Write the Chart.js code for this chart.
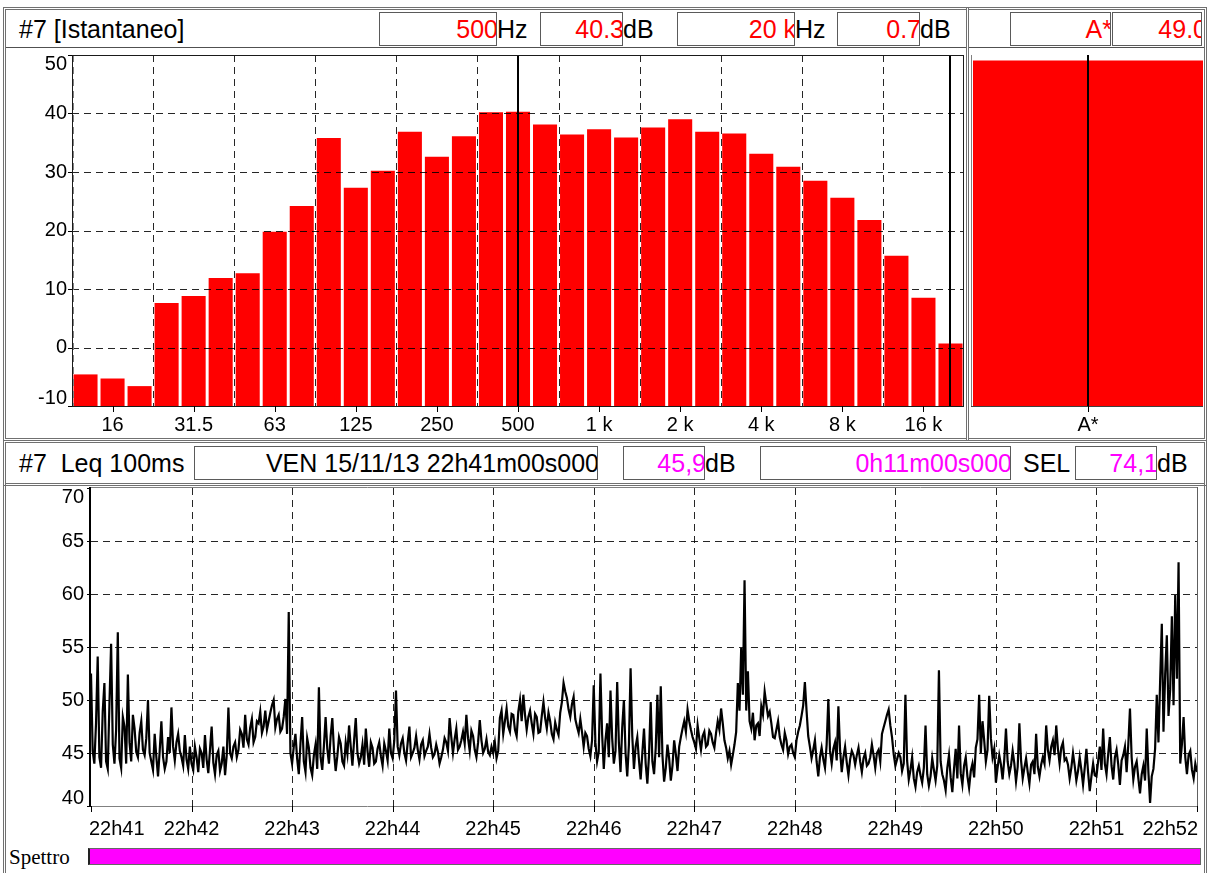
<!DOCTYPE html>
<html lang="it">
<head>
<meta charset="utf-8">
<title>#7 Leq 100ms</title>
<script src="https://cdn.jsdelivr.net/npm/chart.js@4.4.1/dist/chart.umd.min.js"></script>
<style>
  html, body { margin:0; padding:0; background:#fff; }
  body { position:relative; width:1208px; height:873px; overflow:hidden;
         font-family:"Liberation Sans", Arial, sans-serif; color:#000; }
  .abs { position:absolute; box-sizing:border-box; }
  .panel { border:3px double #707070; }
  .rule { height:0; border-top:1px solid #505050; }
  .lbl, .box { font-size:25px; line-height:32px; white-space:pre; }
  .box { height:34px; border:1px solid #5a5a5a; background:#fff; overflow:hidden; text-align:right; }
  .box span { position:relative; left:2px; }
  .red { color:#ff0000; }
  .mag { color:#ff00ff; }
  canvas { position:absolute; display:block; }
</style>
</head>
<body>

<!-- frames -->
<div class="abs panel" style="left:3px;top:7px;width:966px;height:434px"></div>
<div class="abs panel" style="left:966px;top:7px;width:241px;height:434px"></div>
<div class="abs panel" style="left:3px;top:440px;width:1204px;height:46px"></div>
<div class="abs panel" style="left:3px;top:484px;width:1204px;height:400px;border-top:none"></div>
<div class="abs rule" style="left:6px;top:47px;width:960px"></div>
<div class="abs rule" style="left:969px;top:47px;width:235px"></div>

<!-- spectrum header -->
<div class="abs lbl" style="left:19px;top:13px">#7 [Istantaneo]</div>
<div class="abs box red" style="left:379px;top:12px;width:118px"><span>500</span></div>
<div class="abs lbl" style="left:497px;top:13px">Hz</div>
<div class="abs box red" style="left:540px;top:12px;width:83px"><span>40.3</span></div>
<div class="abs lbl" style="left:623px;top:13px">dB</div>
<div class="abs box red" style="left:677px;top:12px;width:118px"><span>20 k</span></div>
<div class="abs lbl" style="left:795px;top:13px">Hz</div>
<div class="abs box red" style="left:837px;top:12px;width:83px"><span>0.7</span></div>
<div class="abs lbl" style="left:920px;top:13px">dB</div>
<div class="abs box red" style="left:1010px;top:12px;width:101px"><span>A*</span></div>
<div class="abs box red" style="left:1112px;top:12px;width:90px"><span style="left:6px">49.0</span></div>

<!-- history header -->
<div class="abs lbl" style="left:19px;top:447px">#7  Leq 100ms</div>
<div class="abs box" style="left:194px;top:446px;width:404px"><span>VEN 15/11/13 22h41m00s000</span></div>
<div class="abs box mag" style="left:623px;top:446px;width:82px"><span>45,9</span></div>
<div class="abs lbl" style="left:705px;top:447px">dB</div>
<div class="abs box mag" style="left:760px;top:446px;width:251px"><span>0h11m00s000</span></div>
<div class="abs lbl" style="left:1023px;top:447px">SEL</div>
<div class="abs box mag" style="left:1075px;top:446px;width:82px"><span>74,1</span></div>
<div class="abs lbl" style="left:1157px;top:447px">dB</div>

<canvas id="spectrum" width="961" height="391" style="left:5px;top:47px"></canvas>
<canvas id="overall" width="239" height="391" style="left:968px;top:47px"></canvas>
<canvas id="history" width="1199" height="355" style="left:5px;top:485px"></canvas>

<!-- spectrum selection bar -->
<div class="abs" style="left:9px;top:845px;font-family:'Liberation Serif',serif;font-size:21px;line-height:24px">Spettro</div>
<div class="abs" style="left:88px;top:848px;width:1113px;height:17px;background:#ff00ff;border:1px solid #666;border-left:2px solid #222"></div>

<script>
// 1/3-octave band levels (dB)
const bands = ['12.5','16','20','25','31.5','40','50','63','80','100','125','160','200','250','315','400',
               '500','630','800','1 k','1.25 k','1.6 k','2 k','2.5 k','3.15 k','4 k','5 k','6.3 k','8 k',
               '10 k','12.5 k','16 k','20 k'];
const bandLevels = [-4.6, -5.3, -6.6, 7.6, 8.8, 11.9, 12.7, 19.8, 24.2, 35.8, 27.3, 30.2, 36.9, 32.6, 36.1, 40.2,
                    40.3, 38.1, 36.4, 37.3, 35.9, 37.6, 39.0, 36.9, 36.6, 33.1, 30.9, 28.5, 25.6,
                    21.8, 15.7, 8.5, 0.7];
const bandTicks = ['16','31.5','63','125','250','500','1 k','2 k','4 k','8 k','16 k'];
const cursorBands = ['500', '20 k'];
const levelTicks = [-10, 0, 10, 20, 30, 40, 50];

// overall weighted level
const overallLabels = ['A*'];
const overallLevels = [49.0];

// Leq 100ms history, one reading per second starting at 22h41m00s
const stepSeconds = 1;
const leq41 = [52.5,45.2,44.0,47.8,54.1,44.6,43.6,48.9,51.6,44.2,43.5,49.6,55.3,45.8,44.0,47.2,56.4,44.5,43.6,48.4,
               47.5,44.0,52.4,46.0,44.2,48.6,47.3,45.1,44.6,46.9,48.0,45.3,44.8,46.4,50.0,45.0,44.2,43.4,46.8,44.6,
               42.8,45.2,48.0,44.6,43.5,44.2,46.5,45.0,49.3,45.6,44.3,46.0,46.8,45.2,44.6,43.8,46.7,44.4,43.5,45.6];
const leq42 = [44.0,43.4,45.6,44.6,43.2,45.4,45.0,43.6,46.7,44.4,43.1,45.3,47.5,44.1,43.0,44.8,45.2,43.3,44.0,45.6,
               42.9,44.8,49.3,45.0,44.5,45.6,46.0,44.6,45.3,47.2,46.8,45.5,48.6,46.3,45.8,47.4,48.2,46.0,46.5,48.0,
               47.8,48.9,46.9,47.5,49.0,47.2,48.0,48.8,49.5,50.0,47.4,48.2,48.6,47.0,47.3,48.4,50.1,46.8,58.3,45.0];
const leq43 = [44.0,45.6,46.8,44.5,43.0,45.9,48.4,44.2,43.2,46.4,45.5,43.6,42.9,44.8,45.8,43.5,51.2,44.6,43.4,45.7,
               48.4,45.4,44.0,46.6,48.3,45.2,43.3,44.7,46.5,45.9,44.2,43.8,46.0,44.9,47.6,45.6,43.8,46.2,48.3,45.0,
               44.0,44.6,45.8,43.9,47.3,45.2,43.7,46.0,45.5,44.0,44.2,45.4,46.0,44.7,43.8,45.9,45.2,44.3,47.3,45.0];
const leq44 = [44.5,46.2,50.9,45.6,44.8,45.9,46.4,45.0,44.3,46.0,47.5,44.6,45.0,45.5,46.6,45.3,44.4,45.8,46.2,44.7,
               45.2,45.6,46.8,45.5,44.6,44.9,45.8,45.1,44.0,44.6,45.3,46.4,46.0,45.2,48.3,46.5,45.0,46.3,47.3,45.3,
               45.6,46.2,47.0,45.9,48.6,46.4,45.2,47.1,46.6,45.3,44.6,46.0,48.1,46.2,45.0,45.4,46.3,45.1,44.8,45.6];
const leq45 = [45.0,46.0,44.5,45.2,48.3,49.0,46.8,48.0,49.2,47.5,47.0,48.7,48.6,47.2,46.6,48.9,50.0,48.0,50.5,48.6,
               47.2,48.4,49.0,47.8,46.8,48.7,48.4,46.9,47.0,48.5,49.8,48.3,47.3,48.8,48.0,46.8,46.3,47.9,47.2,46.7,
               48.8,49.8,51.6,50.8,50.2,49.1,48.4,49.6,50.3,48.2,47.5,46.9,48.2,47.0,45.6,46.9,46.6,45.4,44.7,46.2];
const leq46 = [51.4,46.0,44.2,45.1,52.5,46.8,43.5,46.2,47.8,44.6,50.9,46.4,44.0,45.2,51.7,46.0,43.2,47.4,50.0,45.0,
               42.8,45.8,53.0,46.6,43.5,45.6,46.5,44.3,42.5,45.0,47.3,44.0,42.1,44.8,49.8,44.2,43.0,45.5,50.5,44.6,
               51.3,44.8,42.3,43.6,45.8,44.5,42.4,43.8,46.2,44.9,43.3,45.6,46.5,47.3,48.0,47.0,49.1,48.0,47.2,46.5];
const leq47 = [46.0,45.4,47.6,46.4,45.3,46.6,47.0,45.6,45.8,47.1,46.8,46.0,45.5,46.9,48.0,47.2,49.2,47.8,46.2,45.5,
               44.5,45.2,43.9,44.8,45.8,47.0,51.6,49.0,54.9,50.5,61.3,49.0,52.7,48.0,47.3,48.8,46.2,47.6,47.8,46.6,
               49.4,48.6,50.8,49.6,48.5,48.9,47.8,46.5,46.4,47.2,48.0,46.5,45.8,45.3,46.9,46.2,44.9,45.6,45.8,45.0];
const leq48 = [44.6,46.2,47.0,47.6,48.5,49.5,51.7,49.0,46.6,45.6,44.5,45.3,46.2,44.2,42.8,44.6,45.5,44.4,43.6,45.8,
               50.1,45.2,44.0,45.4,46.0,44.3,49.4,45.3,43.2,44.6,45.6,44.1,42.9,44.4,45.2,44.8,43.9,44.8,45.5,44.2,
               43.2,44.5,45.0,43.8,44.0,44.6,45.8,44.8,43.6,45.0,45.3,44.2,46.8,47.4,48.0,48.6,49.1,47.6,46.5,44.9];
const leq49 = [43.8,44.4,45.0,44.6,43.3,44.0,50.5,44.3,42.5,43.4,44.6,42.6,41.8,43.2,43.8,42.9,42.2,43.6,47.6,43.0,
               41.9,42.8,44.5,43.4,42.4,43.8,52.8,44.2,43.0,42.4,41.5,43.6,44.8,42.7,41.3,43.5,45.4,42.6,47.6,43.1,
               42.0,43.8,44.6,42.8,41.7,43.3,44.0,42.7,45.5,46.3,50.5,45.0,48.0,46.2,44.2,45.3,50.4,46.4,44.6,45.4];
const leq50 = [42.2,43.6,44.8,43.9,42.5,44.4,47.3,44.2,43.0,43.8,45.2,44.0,42.3,43.7,47.8,44.3,42.6,43.6,44.5,43.2,
               42.1,43.9,44.2,43.0,46.8,43.7,42.8,43.9,44.6,44.0,47.6,45.3,44.3,45.6,46.2,44.8,47.6,45.4,44.0,45.5,
               46.0,44.3,44.5,43.9,42.6,43.6,45.0,43.8,42.4,43.3,44.6,43.4,42.0,43.6,45.4,43.2,41.4,42.8,44.0,42.9];
const leq51 = [42.8,44.2,45.6,43.4,47.3,44.0,43.0,44.9,46.5,43.8,42.5,44.6,45.3,43.9,42.0,44.3,44.8,45.6,43.2,45.8,
               49.2,44.6,42.5,43.7,44.2,42.6,41.2,43.0,43.8,42.4,47.3,43.2,40.3,42.8,43.5,45.4,50.5,46.0,51.8,57.2,
               47.0,52.4,56.1,48.5,51.0,57.9,49.5,59.9,52.0,63.0,44.0,45.8,48.4,44.6,43.0,44.8,45.2,43.4,42.6,44.0];
const leqEnd = [43.2];
const timeTicks = ['22h41','22h42','22h43','22h44','22h45','22h46','22h47','22h48','22h49','22h50','22h51','22h52'];
const leqTicks = [40, 45, 50, 55, 60, 65, 70];

const leqSeries = [].concat(leq41, leq42, leq43, leq44, leq45, leq46, leq47, leq48, leq49, leq50, leq51, leqEnd)
  .map((v, i) => ({ x: i * stepSeconds, y: v }));

const TICK_FONT = '20px "Liberation Sans", Arial, sans-serif';
const GRID = 'rgba(0,0,0,0.85)';

function crisp(v) { return Math.round(v) + 0.5; }
function stroke(ctx, x1, y1, x2, y2, color, width, dashed) {
  ctx.save();
  ctx.strokeStyle = color;
  ctx.lineWidth = width || 1;
  ctx.setLineDash(dashed ? [7, 5] : []);
  ctx.beginPath(); ctx.moveTo(x1, y1); ctx.lineTo(x2, y2); ctx.stroke();
  ctx.restore();
}
function drawYLabels(chart, ticks, gap) {
  const { ctx, chartArea: a, scales: { y } } = chart;
  ctx.save();
  ctx.font = TICK_FONT; ctx.fillStyle = '#000';
  ctx.textAlign = 'right'; ctx.textBaseline = 'middle';
  ticks.forEach(v => {
    const py = y.getPixelForValue(v);
    stroke(ctx, a.left - 4, crisp(py), a.left, crisp(py), '#000');
    const ty = Math.min(Math.max(py, a.top + 9), a.bottom - 8);
    ctx.fillText(String(v), a.left - gap, ty);
  });
  ctx.restore();
}

// grid, cursors, frame and labels of the band spectrum
const spectrumDecor = {
  id: 'spectrumDecor',
  afterDatasetsDraw(chart) {
    const { ctx, chartArea: a, scales: { x, y } } = chart;
    const half = (a.right - a.left) / bands.length / 2;
    levelTicks.forEach(v => {
      if (v <= y.min || v >= y.max) return;
      const py = crisp(y.getPixelForValue(v));
      stroke(ctx, a.left, py, a.right, py, GRID, 1, true);
    });
    bands.forEach((b, i) => {
      if (i % 3) return;
      const px = crisp(x.getPixelForValue(i) - half) + (i === 0 ? 1 : 0);
      stroke(ctx, px, a.top, px, a.bottom, i === 0 ? '#808080' : GRID, 1, true);
    });
    cursorBands.forEach(b => {
      const px = Math.round(x.getPixelForValue(bands.indexOf(b)));
      stroke(ctx, px, a.top, px, a.bottom, '#000', 2);
    });
    ctx.save();
    ctx.strokeStyle = '#1a1a1a'; ctx.lineWidth = 1;
    ctx.strokeRect(crisp(a.left), crisp(a.top), Math.round(a.right - a.left) - 1, Math.round(a.bottom - a.top));
    ctx.restore();
  },
  afterDraw(chart) {
    const { ctx, chartArea: a, scales: { x } } = chart;
    drawYLabels(chart, levelTicks, 5);
    ctx.save();
    ctx.font = TICK_FONT; ctx.fillStyle = '#000';
    ctx.textAlign = 'center'; ctx.textBaseline = 'middle';
    bands.forEach((b, i) => {
      if (!bandTicks.includes(b)) return;
      const px = x.getPixelForValue(i);
      stroke(ctx, crisp(px), a.bottom, crisp(px), a.bottom + 6, '#000');
      ctx.fillText(b, px, a.bottom + 19);
    });
    ctx.restore();
  }
};

// cursor, frame and label of the overall level
const overallDecor = {
  id: 'overallDecor',
  afterDatasetsDraw(chart) {
    const { ctx, chartArea: a, scales: { x } } = chart;
    const px = Math.round(x.getPixelForValue(0));
    stroke(ctx, px, a.top, px, a.bottom, '#000', 2);
    stroke(ctx, crisp(a.left) - 2, a.top, crisp(a.left) - 2, a.bottom, '#808080');
    stroke(ctx, a.left - 2, crisp(a.bottom), a.right, crisp(a.bottom), '#404040');
  },
  afterDraw(chart) {
    const { ctx, chartArea: a, scales: { x } } = chart;
    ctx.save();
    ctx.font = TICK_FONT; ctx.fillStyle = '#000';
    ctx.textAlign = 'center'; ctx.textBaseline = 'middle';
    overallLabels.forEach((l, i) => {
      const px = x.getPixelForValue(i);
      stroke(ctx, crisp(px), a.bottom, crisp(px), a.bottom + 6, '#000');
      ctx.fillText(l, px, a.bottom + 19);
    });
    ctx.restore();
  }
};

// grid, frame and labels of the Leq history
const historyDecor = {
  id: 'historyDecor',
  beforeDatasetsDraw(chart) {
    const { chartArea: a, scales: { x, y }, ctx } = chart;
    leqTicks.forEach(v => {
      if (v <= y.min || v >= y.max) return;
      const py = crisp(y.getPixelForValue(v));
      stroke(ctx, a.left, py, a.right, py, GRID, 1, true);
    });
    timeTicks.forEach((t, i) => {
      const px = crisp(x.getPixelForValue(i * 60));
      if (px <= a.left + 2 || px >= a.right - 2) return;
      stroke(ctx, px, a.top, px, a.bottom, GRID, 1, true);
    });
  },
  afterDraw(chart) {
    const { ctx, chartArea: a, scales: { x } } = chart;
    stroke(ctx, a.left, crisp(a.top) - 1, a.right, crisp(a.top) - 1, '#808080');
    stroke(ctx, crisp(a.right), a.top - 1, crisp(a.right), a.bottom, '#606060');
    stroke(ctx, a.left, crisp(a.bottom), a.right, crisp(a.bottom), '#808080');
    stroke(ctx, Math.round(a.left) - 1, a.top - 1, Math.round(a.left) - 1, a.bottom + 1, '#000', 2);
    drawYLabels(chart, leqTicks, 7);
    ctx.save();
    ctx.font = TICK_FONT; ctx.fillStyle = '#000'; ctx.textBaseline = 'middle';
    timeTicks.forEach((t, i) => {
      const px = x.getPixelForValue(i * 60);
      stroke(ctx, crisp(px), a.bottom, crisp(px), a.bottom + 6, '#000');
      if (i === 0) { ctx.textAlign = 'left'; ctx.fillText(t, px - 2, a.bottom + 23); }
      else if (i === timeTicks.length - 1) { ctx.textAlign = 'right'; ctx.fillText(t, px + 1, a.bottom + 23); }
      else { ctx.textAlign = 'center'; ctx.fillText(t, px, a.bottom + 23); }
    });
    ctx.restore();
  }
};

const quiet = { legend: { display: false }, tooltip: { enabled: false } };
function hiddenAxis(extra, fit) {
  return Object.assign({
    grid: { display: false }, border: { display: false }, ticks: { display: false },
    afterFit: fit
  }, extra);
}

new Chart(document.getElementById('spectrum'), {
  type: 'bar',
  data: { labels: bands, datasets: [{ data: bandLevels, base: -10, backgroundColor: '#ff0000',
          borderWidth: 0, barPercentage: 0.89, categoryPercentage: 1 }] },
  options: {
    responsive: false, animation: false, events: [],
    layout: { padding: { left: 0, right: 2, top: 8, bottom: 0 } },
    plugins: quiet,
    scales: {
      x: hiddenAxis({}, s => { s.height = 32; }),
      y: hiddenAxis({ min: -10, max: 50 }, s => { s.width = 67; })
    }
  },
  plugins: [spectrumDecor]
});

new Chart(document.getElementById('overall'), {
  type: 'bar',
  data: { labels: overallLabels, datasets: [{ data: overallLevels, base: -10, backgroundColor: '#ff0000',
          borderWidth: 0, barPercentage: 1, categoryPercentage: 1 }] },
  options: {
    responsive: false, animation: false, events: [],
    layout: { padding: { left: 5, right: 4, top: 8, bottom: 0 } },
    plugins: quiet,
    scales: {
      x: hiddenAxis({}, s => { s.height = 32; }),
      y: { display: false, min: -10, max: 50 }
    }
  },
  plugins: [overallDecor]
});

new Chart(document.getElementById('history'), {
  type: 'line',
  data: { datasets: [{ data: leqSeries, borderColor: '#000', borderWidth: 2.2, pointRadius: 0,
          tension: 0, fill: false }] },
  options: {
    responsive: false, animation: false, events: [],
    layout: { padding: { left: 0, right: 7, top: 3, bottom: 0 } },
    plugins: quiet,
    scales: {
      x: hiddenAxis({ type: 'linear', min: 0, max: 660 }, s => { s.height = 34; }),
      y: hiddenAxis({ min: 40, max: 70 }, s => { s.width = 86; })
    }
  },
  plugins: [historyDecor]
});
</script>
</body>
</html>
